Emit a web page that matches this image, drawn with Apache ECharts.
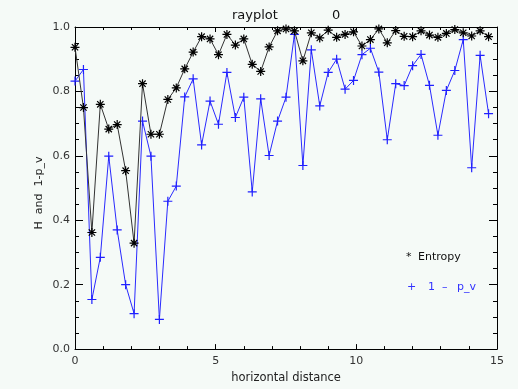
<!DOCTYPE html>
<html>
<head>
<meta charset="utf-8">
<script src="https://cdn.jsdelivr.net/npm/echarts@6/dist/echarts.min.js"></script>
<style>
  html, body { margin: 0; padding: 0; background: #f5faf7; }
  #chart { width: 518px; height: 389px; }
</style>
</head>
<body>
<div id="chart"></div>
<script>
// Sample positions along the ray (horizontal distance)
const distance = [
  0.0, 0.3, 0.6, 0.9, 1.2, 1.5, 1.8, 2.1, 2.4, 2.7,
  3.0, 3.3, 3.6, 3.9, 4.2, 4.5, 4.8, 5.1, 5.4, 5.7,
  6.0, 6.3, 6.6, 6.9, 7.2, 7.5, 7.8, 8.1, 8.4, 8.7,
  9.0, 9.3, 9.6, 9.9, 10.2, 10.5, 10.8, 11.1, 11.4, 11.7,
  12.0, 12.3, 12.6, 12.9, 13.2, 13.5, 13.8, 14.1, 14.4, 14.7
];

// Entropy H
const entropy = [
  0.937, 0.750, 0.362, 0.760, 0.683, 0.697, 0.554, 0.329, 0.824, 0.667,
  0.667, 0.775, 0.811, 0.870, 0.922, 0.970, 0.963, 0.914, 0.977, 0.944,
  0.963, 0.884, 0.862, 0.938, 0.988, 0.994, 0.988, 0.895, 0.982, 0.966,
  0.990, 0.968, 0.977, 0.985, 0.941, 0.961, 0.994, 0.951, 0.989, 0.971,
  0.970, 0.988, 0.975, 0.968, 0.980, 0.992, 0.982, 0.972, 0.988, 0.970
];

// 1 - p_v
const oneMinusPv = [
  0.832, 0.868, 0.154, 0.285, 0.599, 0.370, 0.200, 0.110, 0.708, 0.599,
  0.092, 0.459, 0.506, 0.783, 0.839, 0.634, 0.770, 0.698, 0.859, 0.719,
  0.782, 0.488, 0.777, 0.601, 0.708, 0.782, 0.977, 0.570, 0.929, 0.755,
  0.859, 0.900, 0.807, 0.834, 0.914, 0.934, 0.860, 0.650, 0.824, 0.818,
  0.880, 0.915, 0.819, 0.664, 0.803, 0.865, 0.961, 0.563, 0.912, 0.731
];

const yTicks = [0.0, 0.2, 0.4, 0.6, 0.8, 1.0];
const xTicks = [0, 5, 10, 15];

const FONT = '"DejaVu Sans", sans-serif';
const STAR = 'path://M5,0L5,10M0,5L10,5M1.5,1.5L8.5,8.5M1.5,8.5L8.5,1.5';
const PLUS = 'path://M0,5L10,5M5,0L5,10';

const pairs = (ys) => distance.map((x, i) => [x, ys[i]]);

function xAxisDef(pos, showLabels) {
  return {
    type: 'value', position: pos, min: xTicks[0], max: xTicks[xTicks.length - 1], interval: 5,
    name: showLabels ? 'horizontal distance' : '',
    nameLocation: 'middle', nameGap: 19,
    nameTextStyle: { fontFamily: FONT, fontSize: 11.5, color: '#222' },
    axisLine: { show: true, onZero: false, lineStyle: { color: '#000', width: 1 } },
    axisTick: { show: true, inside: true, length: 5, lineStyle: { color: '#000' } },
    minorTick: { show: true, splitNumber: 5, length: 3, lineStyle: { color: '#000' } },
    axisLabel: { show: showLabels, margin: 7, fontFamily: FONT, fontSize: 11, color: '#333' },
    splitLine: { show: false }
  };
}

function yAxisDef(pos, showLabels) {
  return {
    type: 'value', position: pos, min: yTicks[0], max: yTicks[yTicks.length - 1], interval: 0.2,
    axisLine: { show: true, onZero: false, lineStyle: { color: '#000', width: 1 } },
    axisTick: { show: true, inside: true, length: 8, lineStyle: { color: '#000' } },
    minorTick: { show: true, splitNumber: 4, length: 4, lineStyle: { color: '#000' } },
    axisLabel: {
      show: showLabels, margin: 5, fontFamily: FONT, fontSize: 11, color: '#333',
      formatter: (v) => v.toFixed(1)
    },
    splitLine: { show: false }
  };
}

const chart = echarts.init(document.getElementById('chart'), null, { renderer: 'canvas' });

chart.setOption({
  backgroundColor: '#f5faf7',
  animation: false,
  grid: { left: 75, right: 21, top: 27, bottom: 37, containLabel: false },
  xAxis: [xAxisDef('bottom', true), xAxisDef('top', false)],
  yAxis: [yAxisDef('left', true), yAxisDef('right', false)],
  graphic: [
    { type: 'text', left: 232, top: 9, style: { text: 'rayplot', font: '13px ' + FONT, fill: '#111' } },
    { type: 'text', left: 332, top: 9, style: { text: '0', font: '13px ' + FONT, fill: '#111' } },
    {
      type: 'text', x: 39, y: 193, rotation: Math.PI / 2,
      style: { text: 'H  and  1-p_v', font: '11px ' + FONT, fill: '#222', align: 'center', verticalAlign: 'middle' }
    },
    { type: 'text', left: 406, top: 252, style: { text: '*', font: '11px ' + FONT, fill: '#111' } },
    { type: 'text', left: 418, top: 252, style: { text: 'Entropy', font: '11px ' + FONT, fill: '#111' } },
    { type: 'text', left: 407, top: 282, style: { text: '+', font: '11px ' + FONT, fill: '#3333ff' } },
    { type: 'text', left: 428, top: 282, style: { text: '1', font: '11px ' + FONT, fill: '#3333ff' } },
    { type: 'text', left: 442, top: 282, style: { text: '\u2013', font: '11px ' + FONT, fill: '#3333ff' } },
    { type: 'text', left: 457, top: 282, style: { text: 'p_v', font: '11px ' + FONT, fill: '#3333ff' } }
  ],
  series: [
    {
      name: 'Entropy', type: 'line', data: pairs(entropy), clip: false,
      symbol: STAR, symbolSize: 9,
      lineStyle: { color: '#333', width: 1 },
      itemStyle: { color: 'rgba(0,0,0,0)', borderColor: '#000', borderWidth: 1.2 },
      z: 3
    },
    {
      name: '1 - p_v', type: 'line', data: pairs(oneMinusPv), clip: false,
      symbol: PLUS, symbolSize: 9,
      lineStyle: { color: '#2a2aff', width: 1 },
      itemStyle: { color: 'rgba(0,0,0,0)', borderColor: '#2020ff', borderWidth: 1.2 },
      z: 2
    }
  ]
});
</script>
</body>
</html>
